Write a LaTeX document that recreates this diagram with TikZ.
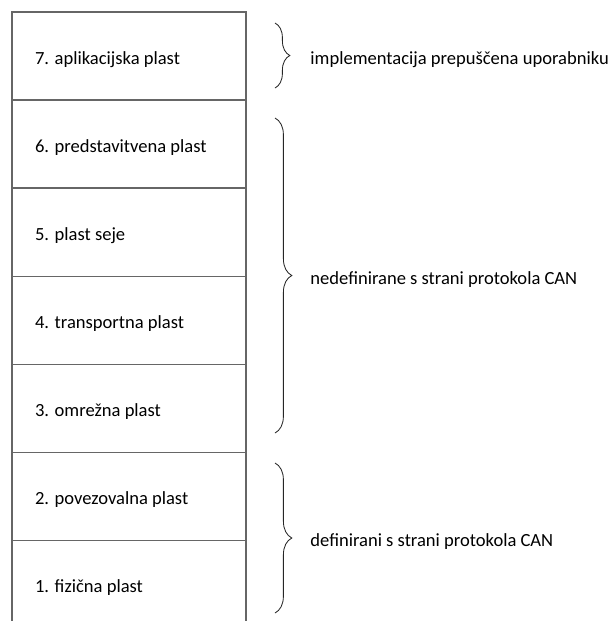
\documentclass[tikz,border=0pt]{standalone}
\usepackage{fontspec}
\setmainfont{Carlito}
\usetikzlibrary{positioning,decorations.pathreplacing}

\begin{document}
\begin{tikzpicture}[x=0.025cm, y=-0.025cm,
  layer/.style={draw=black!60, line width=0.8pt, outer sep=0pt, minimum width=5.85cm,
    minimum height=2.2cm, text width=4.7cm, inner xsep=0.575cm, align=flush left,
    text height=15pt, text depth=3pt, font=\fontsize{13.2}{15}\selectfont},
  curly/.style={draw=black!85, line width=0.6pt, decorate, decoration={brace, amplitude=#1}},
  remark/.style={anchor=west, inner sep=0pt, xshift=0.875cm, yshift=-0.1cm,
    font=\fontsize{13.2}{15}\selectfont}]
\useasboundingbox (0,0) rectangle (610,621);
\clip (0,0) rectangle (610,621);

\node[layer, anchor=north west] (l7) at (12,12) {7. aplikacijska plast};
\node[layer, below=0pt of l7] (l6) {6. predstavitvena plast};
\node[layer, below=0pt of l6] (l5) {5. plast seje};
\node[layer, below=0pt of l5] (l4) {4. transportna plast};
\node[layer, below=0pt of l4] (l3) {3. omrežna plast};
\node[layer, below=0pt of l3] (l2) {2. povezovalna plast};
\node[layer, below=0pt of l2] (l1) {1. fizična plast};

\draw[curly=0.37cm] (275,23) -- (275,88)
  node[remark, midway] (user) {implementacija prepuščena uporabniku};
\draw[curly=0.42cm] (275,118) -- (275,433)
  node[remark, midway] (undef) {nedefinirane s strani protokola CAN};
\draw[curly=0.42cm] (275,463) -- (275,613)
  node[remark, midway] (def) {definirani s strani protokola CAN};
\end{tikzpicture}
\end{document}
